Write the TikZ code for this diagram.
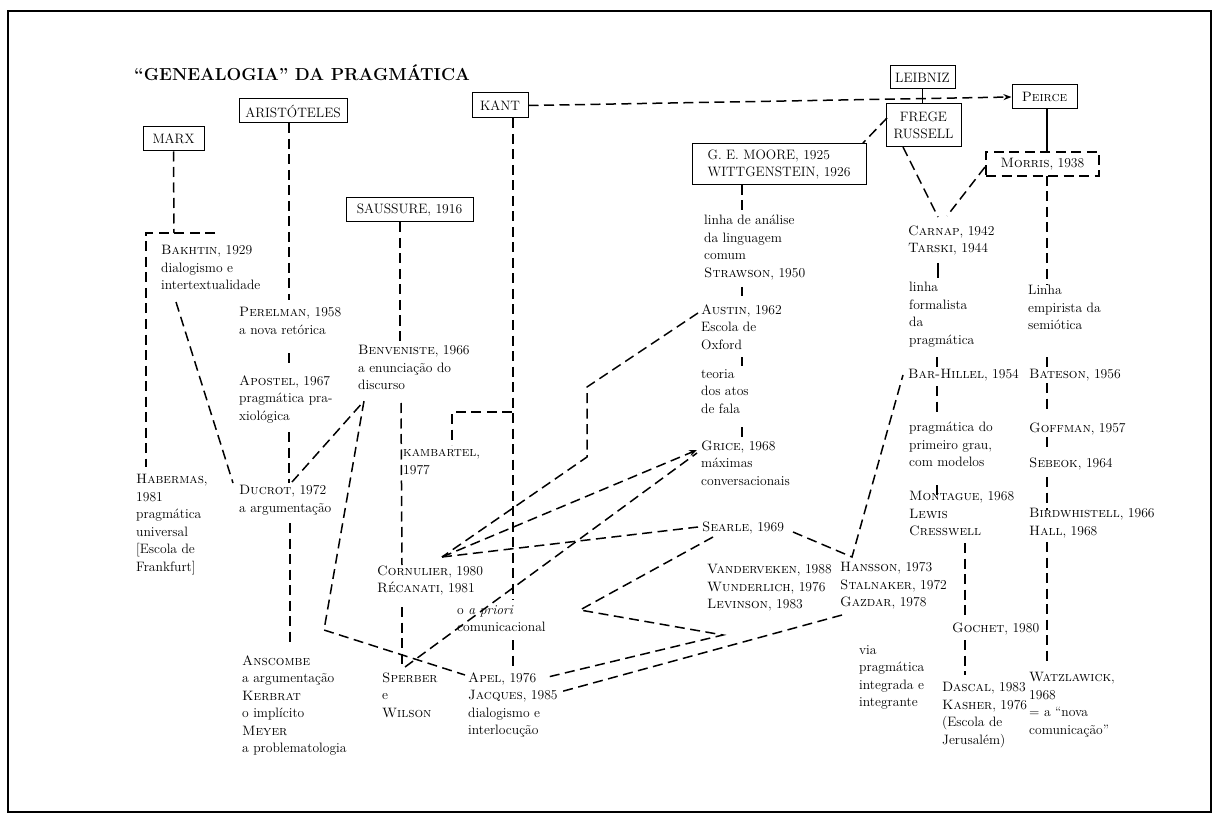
\documentclass[tikz,border=0pt]{standalone}
\usepackage{fontspec}
\usetikzlibrary{arrows.meta}
\newcommand\bodyfnt{\fontsize{13.6}{17.5}\selectfont}
\newcommand\titlefnt{\fontsize{17.4}{20}\selectfont\bfseries}
\begin{document}
\begin{tikzpicture}[x=1pt,y=-1pt,
  txt/.style={anchor=north west,inner sep=0pt,align=left,font=\bodyfnt,execute at begin node=\strut},
  box/.style={draw,line width=1pt,inner sep=0pt,font=\bodyfnt,align=center},
  link/.style={line width=1.5pt,dash pattern=on 10pt off 5.5pt},
  solidlink/.style={line width=1.2pt},
  tip/.style={-{Stealth[length=8pt,width=6pt]}}
]
\useasboundingbox (0,0) rectangle (1219,821);
\draw[line width=2pt] (8,11) rectangle (1211,812);

% title
\node[anchor=base west,inner sep=0pt,font=\titlefnt] (title) at (134,81) {“GENEALOGIA” DA PRAGMÁTICA};

% boxes
\node[box,minimum width=61pt,minimum height=24pt] (marx) at (173.5,139) {MARX};
\node[box,minimum width=108pt,minimum height=24pt] (arist) at (293,111) {ARISTÓTELES};
\node[box,minimum width=127pt,minimum height=24pt] (saussure) at (409.5,210) {SAUSSURE, 1916};
\node[box,minimum width=56pt,minimum height=25pt] (kant) at (500,105.5) {KANT};
\node[box,align=left,minimum width=174pt,minimum height=41pt] (moore) at (779,164.5) {G. E. MOORE, 1925\\WITTGENSTEIN, 1926};
\node[box,minimum width=65pt,minimum height=23pt] (leibniz) at (922.5,77.5) {LEIBNIZ};
\node[box,minimum width=75pt,minimum height=43pt] (frege) at (923.5,125.5) {FREGE\\RUSSELL};
\node[box,minimum width=65pt,minimum height=24pt] (peirce) at (1044.5,97) {\textsc{Peirce}};
\node[box,link,line width=1.2pt,minimum width=113pt,minimum height=24pt] (morris) at (1042.5,164) {\textsc{Morris}, 1938};

% texts, left part
\node[txt] (bakhtin) at (161,245.25) {\textsc{Bakhtin}, 1929\\dialogismo e\\intertextualidade};
\node[txt] (perelman) at (239,307.25) {\textsc{Perelman}, 1958\\a nova retórica};
\node[txt] (apostel) at (239,375.25) {\textsc{Apostel}, 1967\\pragmática pra-\\xiológica};
\node[txt] (habermas) at (136,474.25) {\textsc{Habermas},\\1981\\pragmática\\universal\\{[}Escola de\\Frankfurt{]}};
\node[txt] (ducrot) at (239,485.25) {\textsc{Ducrot}, 1972\\a argumentação};
\node[txt] (anscombe) at (242,655.25) {\textsc{Anscombe}\\a argumentação\\\textsc{Kerbrat}\\o implícito\\\textsc{Meyer}\\a problematologia};
\node[txt] (benveniste) at (358,345.25) {\textsc{Benveniste}, 1966\\a enunciação do\\discurso};
\node[txt] (kambartel) at (403,449.25) {\textsc{kambartel},\\1977};
\node[txt] (cornulier) at (377,565.25) {\textsc{Cornulier}, 1980\\\textsc{Récanati}, 1981};
\node[txt] (sperber) at (382,672.25) {\textsc{Sperber}\\e\\\textsc{Wilson}};
\node[txt] (apriori) at (457,605.25) {o \textit{a priori}\\comunicacional};
\node[txt] (apel) at (468,672.25) {\textsc{Apel}, 1976\\\textsc{Jacques}, 1985\\dialogismo e\\interlocução};

% texts, middle
\node[txt] (analise) at (704,215.25) {linha de análise\\da linguagem\\comum\\\textsc{Strawson}, 1950};
\node[txt] (austin) at (701,304.25) {\textsc{Austin}, 1962\\Escola de\\Oxford};
\node[txt] (teoria) at (701,369.25) {teoria\\dos atos\\de fala};
\node[txt] (grice) at (701,440.25) {\textsc{Grice}, 1968\\máximas\\conversacionais};
\node[txt] (searle) at (702,519.25) {\textsc{Searle}, 1969};
\node[txt] (vanderveken) at (707,564.25) {\textsc{Vanderveken}, 1988\\\textsc{Wunderlich}, 1976\\\textsc{Levinson}, 1983};

% texts, right middle
\node[txt] (carnap) at (908,225.25) {\textsc{Carnap}, 1942\\\textsc{Tarski}, 1944};
\node[txt] (formal) at (909,282.25) {linha\\formalista\\da\\pragmática};
\node[txt] (barhillel) at (908,366.25) {\textsc{Bar-Hillel}, 1954};
\node[txt] (pragdo) at (909,422.25) {pragmática do\\primeiro grau,\\com modelos};
\node[txt] (montague) at (909,491.25) {\textsc{Montague}, 1968\\\textsc{Lewis}\\\textsc{Cresswell}};
\node[txt] (hansson) at (840,562.25) {\textsc{Hansson}, 1973\\\textsc{Stalnaker}, 1972\\\textsc{Gazdar}, 1978};
\node[txt] (via) at (859,645.25) {via\\pragmática\\integrada e\\integrante};
\node[txt] (gochet) at (952,620.25) {\textsc{Gochet}, 1980};
\node[txt] (dascal) at (942,682.25) {\textsc{Dascal}, 1983\\\textsc{Kasher}, 1976\\(Escola de\\Jerusalém)};

% texts, right
\node[txt] (empir) at (1028,285.25) {Linha\\empirista da\\semiótica};
\node[txt] (bateson) at (1029,366.25) {\textsc{Bateson}, 1956};
\node[txt] (goffman) at (1029,420.25) {\textsc{Goffman}, 1957};
\node[txt] (sebeok) at (1029,455.25) {\textsc{Sebeok}, 1964};
\node[txt] (birdw) at (1029,508.25) {\textsc{Birdwhistell}, 1966\\\textsc{Hall}, 1968};
\node[txt] (watz) at (1029,672.25) {\textsc{Watzlawick},\\1968\\= a “nova\\comunicação”};

% ---- coordinates for connector ends
\coordinate (bkT) at (174,233); \coordinate (bkL) at (146,233);
\coordinate (bkR) at (215,233); \coordinate (habT) at (146,467);
\coordinate (bkD) at (176,302); \coordinate (duTL) at (233,483);
\coordinate (ar1) at (289,300); \coordinate (ar2) at (289,353); \coordinate (ar3) at (289,368);
\coordinate (ar4) at (289,432); \coordinate (ar5) at (289,483);
\coordinate (ar6) at (290,523); \coordinate (ar7) at (290,645);
\coordinate (sa1) at (400,342); \coordinate (sa2) at (401,403); \coordinate (sa3) at (402,565);
\coordinate (sa4) at (402,607); \coordinate (sa5) at (402,667);
\coordinate (ka1) at (513,600); \coordinate (ka2) at (513,640); \coordinate (ka3) at (513,667);
\coordinate (kaJ) at (512,412); \coordinate (kbC) at (452,412); \coordinate (kbB) at (452,445);
\coordinate (duTR) at (292,482); \coordinate (beB) at (364,401);
\coordinate (loop) at (324,630); \coordinate (apL) at (465,675);
\coordinate (auL) at (698,313); \coordinate (au1) at (587,387); \coordinate (au2) at (587,457);
\coordinate (coR) at (442,557);
\coordinate (grL) at (697,450); \coordinate (grL2) at (697,453);
\coordinate (seL) at (698,527); \coordinate (seB) at (713,537); \coordinate (seR) at (793,532);
\coordinate (spT) at (405,667);
\coordinate (zz1) at (580,610); \coordinate (zz2) at (723,635); \coordinate (apR) at (548,677);
\coordinate (gaL) at (842,615); \coordinate (jaR) at (560,692);
\coordinate (haV) at (852,557); \coordinate (bhL) at (903,375);
\coordinate (mo1) at (742,185); \coordinate (mo2) at (742,215);
\coordinate (mo3) at (742,287); \coordinate (mo4) at (742,296);
\coordinate (mo5) at (742,357); \coordinate (mo6) at (742,366);
\coordinate (mo7) at (742,427); \coordinate (mo8) at (742,438);
\coordinate (frL) at (887,118); \coordinate (moTR) at (863,143);
\coordinate (frB) at (903,147); \coordinate (caT) at (938,217);
\coordinate (caT2) at (947,216); \coordinate (mrL) at (985,167);
\coordinate (mrT) at (1047,152); \coordinate (peB) at (1047,109);
\coordinate (mrB) at (1047,176); \coordinate (emT) at (1047,285);
\coordinate (fo1) at (938,263); \coordinate (fo2) at (938,278);
\coordinate (fo3) at (937,357); \coordinate (fo4) at (937,368);
\coordinate (fo5) at (937,386); \coordinate (fo6) at (937,412);
\coordinate (fo7) at (937,485); \coordinate (fo8) at (937,497);
\coordinate (cr1) at (965,543); \coordinate (cr2) at (965,615);
\coordinate (cr3) at (965,640); \coordinate (cr4) at (965,675);
\coordinate (em1) at (1047,357); \coordinate (em2) at (1047,368);
\coordinate (em3) at (1047,383); \coordinate (em4) at (1047,413);
\coordinate (em5) at (1047,437); \coordinate (em6) at (1047,450);
\coordinate (em7) at (1047,477); \coordinate (em8) at (1047,510);
\coordinate (em9) at (1047,542); \coordinate (em10) at (1047,665);

% ---- connectors
\draw[link] (marx.south) -- (bkT);
\draw[link] (bkR) -- (bkL) -- (habT);
\draw[link] (bkD) -- (duTL);
\draw[link] (arist.south -| ar1) -- (ar1);
\draw[link] (ar2) -- (ar3);
\draw[link] (ar4) -- (ar5);
\draw[link] (ar6) -- (ar7);
\draw[link] (saussure.south -| sa1) -- (sa1);
\draw[link] (sa2) -- (sa3);
\draw[link] (sa4) -- (sa5);
\draw[link] (kant.south -| ka1) -- (ka1);
\draw[link] (ka2) -- (ka3);
\draw[link] (kaJ) -- (kbC) -- (kbB);
\draw[link] (duTR) -- (beB) -- (loop) -- (apL);
\draw[link] (auL) -- (au1) -- (au2) -- (coR);
\draw[link,tip] (coR) -- (grL);
\draw[link] (coR) -- (seL);
\draw[link] (spT) -- (grL2);
\draw[link] (seB) -- (zz1) -- (zz2) -- (apR);
\draw[link] (gaL) -- (jaR);
\draw[link] (seR) -- (haV) -- (bhL);
\draw[link] (mo1) -- (mo2);
\draw[link] (mo3) -- (mo4);
\draw[link] (mo5) -- (mo6);
\draw[link] (mo7) -- (mo8);
\draw[link,tip] (kant.east) -- (peirce.west);
\draw[solidlink] (leibniz.south) -- (leibniz.south |- frege.north);
\draw[link] (frL) -- (moTR);
\draw[link] (frB) -- (caT);
\draw[link] (mrL) -- (caT2);
\draw[solidlink] (peB) -- (mrT);
\draw[link] (mrB) -- (emT);
\draw[solidlink] (fo1) -- (fo2);
\draw[link] (fo3) -- (fo4);
\draw[link] (fo5) -- (fo6);
\draw[link] (fo7) -- (fo8);
\draw[link] (cr1) -- (cr2);
\draw[link] (cr3) -- (cr4);
\draw[link] (em1) -- (em2);
\draw[link] (em3) -- (em4);
\draw[link] (em5) -- (em6);
\draw[link] (em7) -- (em8);
\draw[link] (em9) -- (em10);
\end{tikzpicture}
\end{document}
